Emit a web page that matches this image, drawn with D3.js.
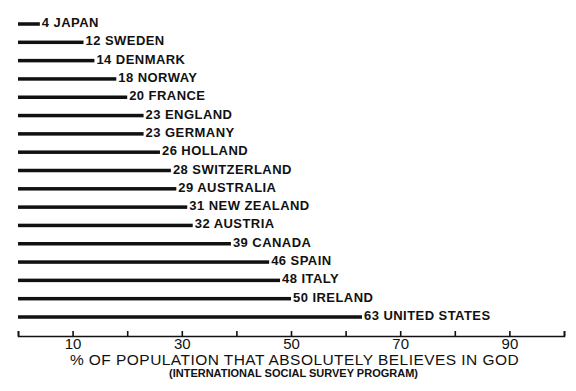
<!DOCTYPE html>
<html>
<head>
<meta charset="utf-8">
<script src="https://cdn.jsdelivr.net/npm/d3@7"></script>
<style>
  body { margin: 0; background: #fff; }
  text { font-family: "Liberation Sans", Arial, Helvetica, sans-serif; fill: #111; }
  .label { font-weight: bold; font-size: 13px; letter-spacing: 0.45px; }
  .axis text { font-size: 15px; }
  .title { font-size: 15.5px; letter-spacing: 0.45px; }
  .sub { font-size: 11px; font-weight: bold; }
</style>
</head>
<body>
<script>
var countries = ["JAPAN", "SWEDEN", "DENMARK", "NORWAY", "FRANCE", "ENGLAND",
  "GERMANY", "HOLLAND", "SWITZERLAND", "AUSTRALIA", "NEW ZEALAND", "AUSTRIA",
  "CANADA", "SPAIN", "ITALY", "IRELAND", "UNITED STATES"];
var values = [4, 12, 14, 18, 20, 23, 23, 26, 28, 29, 31, 32, 39, 46, 48, 50, 63];
var tickValues = [0, 10, 20, 30, 40, 50, 60, 70, 80, 90, 100];
var tickLabels = [10, 30, 50, 70, 90];

var _width = 576, _height = 391;

var svg = d3.select("body").append("svg")
    .attr("width", _width)
    .attr("height", _height);

var x = d3.scaleLinear().domain([0, 100]).range([18, 564]);
var y = d3.scalePoint().domain(countries).range([24, 317]);

var data = countries.map(function(c, i) { return {name: c, value: values[i]}; });

// bars
svg.append("g").selectAll("rect")
    .data(data)
    .enter()
    .append("rect")
    .attr("x", x(0))
    .attr("y", function(d) { return y(d.name) - 1.75; })
    .attr("width", function(d) { return x(d.value) - x(0); })
    .attr("height", 3.5)
    .attr("fill", "#111");

// labels
svg.append("g").selectAll("text")
    .data(data)
    .enter()
    .append("text")
    .attr("class", "label")
    .attr("x", function(d) { return x(d.value) + 2; })
    .attr("y", function(d) { return y(d.name) + 3; })
    .text(function(d) { return d.value + " " + d.name; });

// x axis, ticks point up, labels below
var axis = d3.axisBottom(x)
    .tickValues(tickValues)
    .tickSize(-5)
    .tickPadding(2)
    .tickFormat(function(d) { return tickLabels.indexOf(d) >= 0 ? d : ""; });

var g = svg.append("g")
    .attr("class", "axis")
    .attr("transform", "translate(0,336)")
    .call(axis);
g.attr("font-family", null).attr("font-size", null);
g.select(".domain").attr("stroke", "#111").attr("stroke-width", 1.6);
g.selectAll(".tick line").attr("stroke", "#111").attr("stroke-width", 1.6);
g.selectAll(".tick text").attr("fill", "#111");

svg.append("text")
    .attr("class", "title")
    .attr("x", 294.5)
    .attr("y", 365)
    .attr("text-anchor", "middle")
    .text("% OF POPULATION THAT ABSOLUTELY BELIEVES IN GOD");

svg.append("text")
    .attr("class", "sub")
    .attr("x", 293.5)
    .attr("y", 376.5)
    .attr("text-anchor", "middle")
    .text("(INTERNATIONAL SOCIAL SURVEY PROGRAM)");
</script>
</body>
</html>
